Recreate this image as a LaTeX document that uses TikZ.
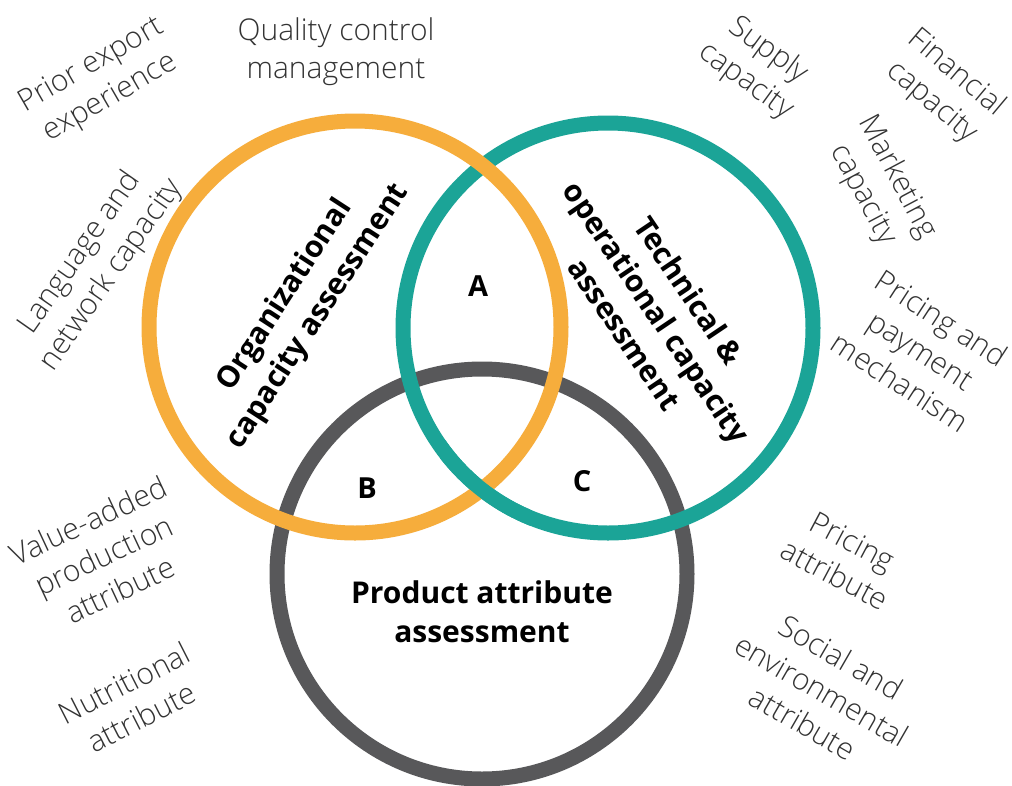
\documentclass[tikz,border=0pt]{standalone}
\usepackage{fontspec}
\setmainfont{Open Sans}
\newfontfamily\lightfont{Open Sans Light}
\definecolor{corange}{HTML}{F6AD3C}
\definecolor{cteal}{HTML}{1BA497}
\definecolor{cgray}{HTML}{58585A}
\definecolor{ctext}{HTML}{333333}
\begin{document}
\begin{tikzpicture}[x=1pt,y=1pt,
  ring/.style={line width=15pt},
  lbl/.style={align=center,text=ctext,font=\lightfont\fontsize{30}{38}\selectfont,inner sep=0pt},
  ttl/.style={align=center,text=black,font=\bfseries\fontsize{30}{39}\selectfont,inner sep=0pt},
  zone/.style={text=black,font=\bfseries\fontsize{29}{32}\selectfont,inner sep=0pt}]
\useasboundingbox (0,0) rectangle (1012,-785);
\fill[white] (0,0) rectangle (1012,-785);
% circles
\coordinate (og) at (355,-327);
\coordinate (tc) at (608,-328);
\coordinate (gy) at (482,-574);
\draw[ring,cgray] (gy) circle[radius=205];
\draw[ring,cteal] (tc) circle[radius=205];
\draw[ring,corange] (og) circle[radius=206];
\begin{scope}
  \clip (440,-440) rectangle (530,-540);
  \draw[ring,cteal] (tc) circle[radius=205];
\end{scope}
% titles
\node[ttl,rotate=57] (org) at (302,-306) {Organizational\\capacity assessment};
\node[ttl,rotate=-56] (tech) at (657,-312) {Technical \&\\operational capacity\\assessment};
\node[ttl] (prod) at (482,-612) {Product attribute\\assessment};
\node[zone] (A) at (478,-286) {A};
\node[zone] (B) at (367,-488) {B};
\node[zone] (C) at (582,-481) {C};
% labels
\node[lbl] (qc) at (336,-52) {Quality control\\management};
\node[lbl,rotate=30] (pe) at (101,-82) {Prior export\\experience};
\node[lbl,rotate=55] (ln) at (96,-264) {Language and\\network capacity};
\node[lbl,rotate=-36] (sc) at (757,-66) {Supply\\capacity};
\node[lbl,rotate=-40] (fc) at (944,-88) {Financial\\capacity};
\node[lbl,rotate=-62] (mc) at (880,-186) {Marketing\\capacity};
\node[lbl,rotate=-33] (pp) at (921,-350) {Pricing and\\payment\\mechanism};
\node[lbl,rotate=25] (va) at (104,-555) {Value-added\\production\\attribute};
\node[lbl,rotate=27] (na) at (133,-700) {Nutritional\\attribute};
\node[lbl,rotate=-28] (pa) at (844,-558) {Pricing\\attribute};
\node[lbl,rotate=-30] (se) at (822,-690) {Social and\\environmental\\attribute};
\end{tikzpicture}
\end{document}
